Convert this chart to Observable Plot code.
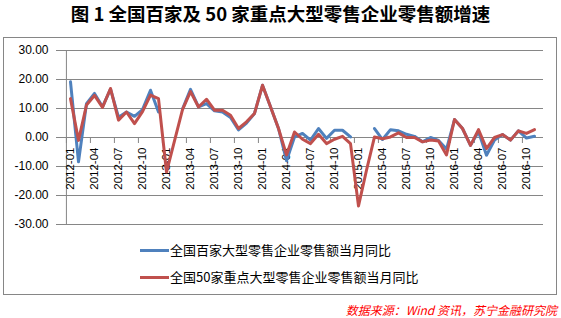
<!DOCTYPE html>
<html>
<head>
<meta charset="utf-8">
<script src="https://cdn.jsdelivr.net/npm/d3@7"></script>
<script src="https://cdn.jsdelivr.net/npm/@observablehq/plot@0.6"></script>
<style>
  html, body { margin: 0; padding: 0; background: #fff; }
  #wrap { position: relative; width: 561px; height: 318px; overflow: hidden; font-family: "Liberation Sans", Arial, sans-serif; }
  #title { position: absolute; left: 3px; top: 0px; width: 555px; text-align: center; font-family: "Noto Sans CJK SC", sans-serif; font-weight: bold; font-size: 18.5px; line-height: normal; color: #000; }
  #box { position: absolute; left: 3px; top: 37px; width: 552px; height: 256px; border: 1px solid #868686; }
  #chart { position: absolute; left: 0; top: 37px; }
  .leg { position: absolute; left: 140px; font-family: "Noto Sans CJK SC", sans-serif; font-size: 13px; line-height: 16px; color: #000; white-space: nowrap; }
  .leg span.sw { display: inline-block; width: 29px; height: 3px; vertical-align: middle; margin-right: 1px; position: relative; top: -1px; }
  #source { position: absolute; right: 4px; top: 302px; font-family: "Noto Sans CJK SC", sans-serif; font-style: italic; font-size: 12px; line-height: 15px; color: #ff0000; white-space: nowrap; }
</style>
</head>
<body>
<div id="wrap">
  <div id="title">图 1 全国百家及 50 家重点大型零售企业零售额增速</div>
  <div id="box"></div>
  <div id="chart"></div>
  <div class="leg" style="top:242px"><span class="sw" style="background:#4F81BD"></span>全国百家大型零售企业零售额当月同比</div>
  <div class="leg" style="top:269px"><span class="sw" style="background:#C0504D"></span>全国50家重点大型零售企业零售额当月同比</div>
  <div id="source">数据来源：Wind 资讯，苏宁金融研究院</div>
</div>
<script>
const months = [
  "2012-01","2012-02","2012-03","2012-04","2012-05","2012-06","2012-07","2012-08","2012-09","2012-10","2012-11","2012-12",
  "2013-01","2013-02","2013-03","2013-04","2013-05","2013-06","2013-07","2013-08","2013-09","2013-10","2013-11","2013-12",
  "2014-01","2014-02","2014-03","2014-04","2014-05","2014-06","2014-07","2014-08","2014-09","2014-10","2014-11","2014-12",
  "2015-01","2015-02","2015-03","2015-04","2015-05","2015-06","2015-07","2015-08","2015-09","2015-10","2015-11","2015-12",
  "2016-01","2016-02","2016-03","2016-04","2016-05","2016-06","2016-07","2016-08","2016-09","2016-10","2016-11"
];
const tickLabels = [
  "2012-01","2012-04","2012-07","2012-10","2013-01","2013-04","2013-07","2013-10",
  "2014-01","2014-04","2014-07","2014-10","2015-01","2015-04","2015-07","2015-10",
  "2016-01","2016-04","2016-07","2016-10"
];
const yTicks = [-30, -20, -10, 0, 10, 20, 30];
// 全国百家大型零售企业零售额当月同比
const baijia = [
  19.2, -8.4, 11.7, 15.2, 10.6, 16.7, 7.0, 8.8, 7.3, 9.6, 16.3, 8.8,
  null, null, 9.8, 16.6, 10.6, 11.7, 9.2, 8.8, 6.9, 2.6, 5.0, 8.3,
  18.0, 10.6, 3.1, -8.0, 0.2, 1.4, -0.9, 3.1, -0.3, 2.5, 2.5, 0.2,
  null, null, 3.1, -0.7, 2.7, 2.3, 1.1, 0.4, -1.5, 0.0, -1.0, -4.0,
  6.2, 3.1, -2.7, 2.0, -6.1, -0.9, 1.0, -0.9, 2.3, -0.2, 0.4
];
// 全国50家重点大型零售企业零售额当月同比
const wushijia = [
  13.4, -1.0, 11.2, 14.5, 10.4, 16.9, 6.0, 8.8, 4.8, 8.9, 14.6, 13.4,
  -11.9, -1.2, 9.6, 15.8, 10.5, 13.2, 9.4, 9.4, 7.7, 3.1, 5.4, 8.3,
  18.0, 10.6, 3.1, -6.0, 1.9, -0.6, -2.1, 1.1, -2.1, -0.6, 0.4, -2.1,
  -23.6, -11.3, 0.2, -0.4, 0.2, 1.6, 0.0, 0.0, -1.5, -0.9, -1.2, -6.0,
  6.2, 3.1, -2.7, 2.7, -3.8, 0.0, 1.0, -0.9, 2.3, 1.4, 2.7
];

const data = months.map((m, i) => ({month: m, blue: baijia[i], red: wushijia[i]}));

const W = 561, H = 198, mL = 61, mR = 18, mT = 13, mB = 11;
const halfStep = (W - mL - mR) / months.length / 2;

const chart = Plot.plot({
  width: W, height: H,
  marginTop: mT, marginBottom: mB, marginLeft: mL, marginRight: mR,
  style: {fontFamily: "'Liberation Sans', Arial, sans-serif", fontSize: "12px", background: "transparent", color: "#000", overflow: "visible"},
  x: {type: "point", domain: months, padding: 0.5, axis: null},
  y: {domain: [-30, 30], axis: null},
  marks: [
    Plot.ruleY(yTicks, {stroke: "#868686", strokeWidth: 1}),
    Plot.ruleX([months[0]], {dx: -halfStep, stroke: "#868686", strokeWidth: 1}),
    Plot.axisY(yTicks, {tickSize: 5, tickPadding: 8, tickFormat: d => d.toFixed(2), fontSize: 12, stroke: "#868686", fill: "#000"}),
    Plot.ruleX(tickLabels, {x: d => d, y1: 0, y2: 0, insetBottom: -6, dx: -halfStep, stroke: "#868686"}),
    Plot.text(tickLabels, {x: d => d, y: 0, text: d => d, rotate: -90, textAnchor: "end", dy: 10, fontSize: 11.5, fill: "#000"}),
    Plot.line(data, {x: "month", y: "blue", stroke: "#4F81BD", strokeWidth: 3}),
    Plot.line(data, {x: "month", y: "red", stroke: "#C0504D", strokeWidth: 3})
  ]
});
document.getElementById("chart").appendChild(chart);
</script>
</body>
</html>
